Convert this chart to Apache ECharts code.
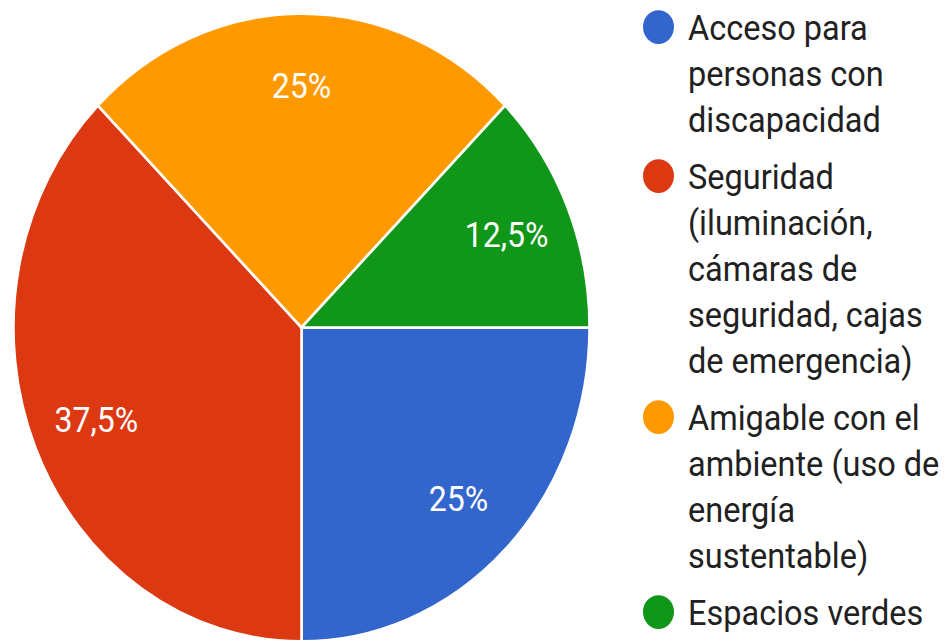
<!DOCTYPE html>
<html><head><meta charset="utf-8">
<script src="https://cdn.jsdelivr.net/npm/echarts@6/dist/echarts.min.js"></script>
<style>
html,body{margin:0;padding:0;background:#fff;overflow:hidden;}
#wrap{width:945px;height:642px;overflow:hidden;}
#chart{width:945px;height:589px;transform:scaleY(1.09);transform-origin:0 0;}
</style></head><body><div id="wrap"><div id="chart"></div></div>
<script>
// ---- data ----
const categories = [
  'Acceso para personas con discapacidad',
  'Seguridad (iluminación, cámaras de seguridad, cajas de emergencia)',
  'Amigable con el ambiente (uso de energía sustentable)',
  'Espacios verdes'
];
const legendLines = [
  ['Acceso para', 'personas con', 'discapacidad'],
  ['Seguridad', '(iluminación,', 'cámaras de', 'seguridad, cajas', 'de emergencia)'],
  ['Amigable con el', 'ambiente (uso de', 'energía', 'sustentable)'],
  ['Espacios verdes']
];
const values = [25, 37.5, 25, 12.5];

// ---- layout / style ----
const LH = 42.2;        // legend line height
const GAP = 52.3;       // distance from last line of an item to first line of next
const FIRST = 24.8;     // first legend line centre
const LEG_FS = 32.5;
const LBL_FS = 32;
const R = 288;
const CENTER = [301.5, 300.5];
const ICON_D = 31;
const ICON_W = 40;

function iconPath(n) {
  const H = n * LH, cy = LH / 2, r = ICON_D / 2;
  return 'path://M0,0L0.01,0Z' +
    'M0,' + cy + 'A' + r + ',' + r + ',0,1,0,' + ICON_D + ',' + cy +
    'A' + r + ',' + r + ',0,1,0,0,' + cy + 'Z' +
    'M' + ICON_W + ',' + H + 'L' + (ICON_W - 0.01) + ',' + H + 'Z';
}

const chart = echarts.init(document.getElementById('chart'), null, {renderer: 'svg'});
const pieData = categories.map((c, i) => ({name: c, value: values[i]}));
const fmtPct = p => String(p.percent).replace('.', ',') + '%';

let c = FIRST;
const legends = categories.map((name, i) => {
  const n = legendLines[i].length;
  const lg = {
    orient: 'vertical',
    left: 643,
    top: c - LH / 2,
    padding: 0,
    itemGap: 0,
    itemWidth: ICON_W,
    itemHeight: n * LH,
    icon: iconPath(n),
    selectedMode: false,
    itemStyle: {borderWidth: 0},
    data: [name],
    formatter: nm => legendLines[categories.indexOf(nm)].join('\n'),
    textStyle: {fontFamily: 'Roboto', fontSize: LEG_FS, lineHeight: LH, color: '#212121'}
  };
  c += (n - 1) * LH + GAP;
  return lg;
});

chart.setOption({
  animation: false,
  color: ['#3366cc', '#dc3912', '#ff9900', '#109618'],
  legend: legends,
  series: [
    {
      type: 'pie',
      radius: [0, R],
      center: CENTER,
      startAngle: 0,
      clockwise: true,
      silent: true,
      data: pieData,
      label: {show: false},
      labelLine: {show: false},
      itemStyle: {borderColor: '#ffffff', borderWidth: 2.5},
      emphasis: {disabled: true}
    },
    {
      type: 'pie',
      radius: [150, R],
      center: CENTER,
      startAngle: 0,
      clockwise: true,
      silent: true,
      data: pieData,
      itemStyle: {color: 'rgba(0,0,0,0)', borderWidth: 0},
      label: {
        show: true,
        position: 'inside',
        formatter: fmtPct,
        color: '#ffffff',
        fontFamily: 'Roboto',
        fontSize: LBL_FS
      },
      labelLine: {show: false},
      emphasis: {disabled: true}
    }
  ]
});
</script></body></html>
